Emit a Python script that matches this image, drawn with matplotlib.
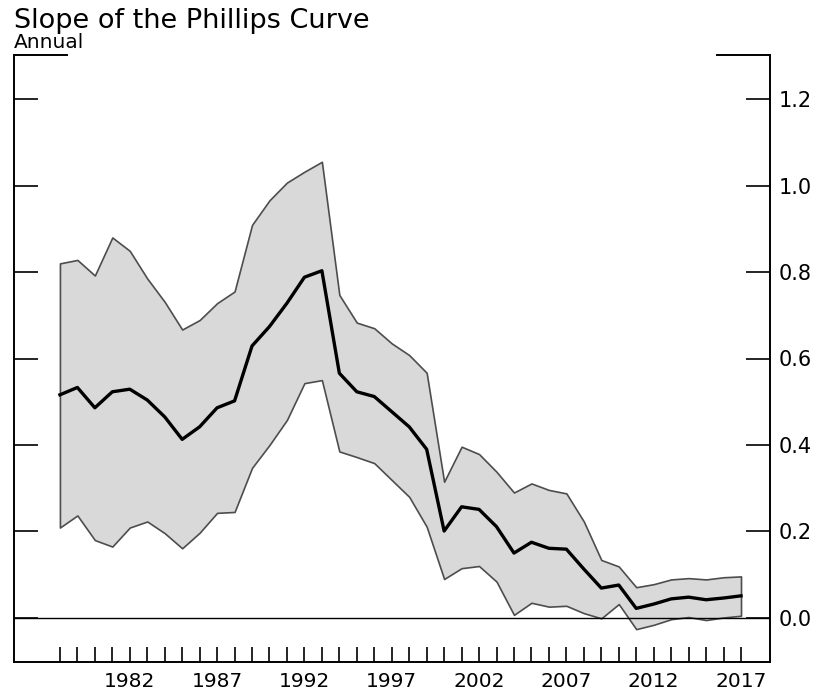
import numpy as np
import matplotlib
matplotlib.use('Agg')
import matplotlib.pyplot as plt

# Datos
years = list(range(1978, 2018))

slope = [0.516, 0.533, 0.486, 0.523, 0.529, 0.504, 0.465, 0.413, 0.442, 0.486,
         0.502, 0.629, 0.674, 0.728, 0.788, 0.803, 0.566, 0.523, 0.512, 0.477,
         0.442, 0.390, 0.201, 0.257, 0.251, 0.211, 0.150, 0.175, 0.161, 0.159,
         0.113, 0.069, 0.076, 0.022, 0.032, 0.044, 0.048, 0.042, 0.046, 0.051]

upper = [0.820, 0.828, 0.792, 0.880, 0.849, 0.785, 0.731, 0.667, 0.689, 0.728,
         0.755, 0.909, 0.966, 1.007, 1.032, 1.055, 0.747, 0.683, 0.670, 0.635,
         0.608, 0.567, 0.315, 0.396, 0.379, 0.338, 0.290, 0.311, 0.296, 0.288,
         0.223, 0.134, 0.119, 0.071, 0.078, 0.089, 0.092, 0.089, 0.094, 0.096]

lower = [0.209, 0.237, 0.180, 0.165, 0.209, 0.223, 0.196, 0.161, 0.197, 0.243,
         0.245, 0.347, 0.400, 0.458, 0.543, 0.550, 0.385, 0.372, 0.358, 0.319,
         0.280, 0.211, 0.090, 0.115, 0.120, 0.084, 0.007, 0.035, 0.026, 0.028,
         0.011, -0.001, 0.032, -0.026, -0.016, -0.003, 0.002, -0.005, 0.001, 0.005]

label_years = [1982, 1987, 1992, 1997, 2002, 2007, 2012, 2017]
y_ticks = [0.0, 0.2, 0.4, 0.6, 0.8, 1.0, 1.2]


def plot_phillips_slope(years, slope, lower, upper):
    """
    Dibuja la pendiente de la curva de Phillips con su banda
    :param years: años
    :param slope: estimación central
    :param lower: límite inferior de la banda
    :param upper: límite superior de la banda
    """
    # Generamos la figura y los ejes
    fig = plt.figure(figsize=(8.19, 6.91), dpi=100)
    ax = fig.add_axes([14 / 819, 1 - 662 / 691, 756 / 819, 607 / 691])

    # Banda de confianza
    ax.fill_between(years, lower, upper, facecolor='#d9d9d9',
                    edgecolor='#4d4d4d', linewidth=1.2, zorder=1)

    # Línea del cero
    ax.axhline(0, color='black', linewidth=1.0, zorder=2)

    # Estimación central
    ax.plot(years, slope, color='black', linewidth=2.4, zorder=3)

    # Límites de los ejes
    ax.set_xlim(1975.37, 2018.66)
    ax.set_ylim(-0.102, 1.302)

    # Marcas del eje x: una por año, etiquetas cada cinco
    ax.set_xticks(years)
    ax.set_xticklabels([str(y) if y in label_years else '' for y in years])
    ax.tick_params(axis='x', direction='in', length=11, width=1.2,
                   pad=7, labelsize=14.5)

    # Marcas del eje y a ambos lados, etiquetas a la derecha
    ax.set_yticks(y_ticks)
    ax.set_yticklabels(['{:.1f}'.format(v) for v in y_ticks])
    ax.tick_params(axis='y', direction='in', length=17, width=1.2,
                   left=True, right=True, labelleft=False, labelright=True,
                   pad=6, labelsize=15)

    # Bordes: sin borde superior, solo dos trozos en las esquinas
    ax.spines['top'].set_visible(False)
    for side in ['left', 'right', 'bottom']:
        ax.spines[side].set_linewidth(1.4)
    ax.plot([0, 0.07], [1, 1], color='black', linewidth=1.4,
            transform=ax.transAxes, clip_on=False)
    ax.plot([0.93, 1], [1, 1], color='black', linewidth=1.4,
            transform=ax.transAxes, clip_on=False)

    # Título y subtítulo
    fig.text(14 / 819, 1 - 28 / 691, 'Slope of the Phillips Curve',
             fontsize=19.5, ha='left', va='baseline')
    fig.text(14 / 819, 1 - 48 / 691, 'Annual',
             fontsize=14.5, ha='left', va='baseline')

    # Guardamos el gráfico
    fig.savefig('out.png', dpi=100)


plot_phillips_slope(years, slope, lower, upper)
